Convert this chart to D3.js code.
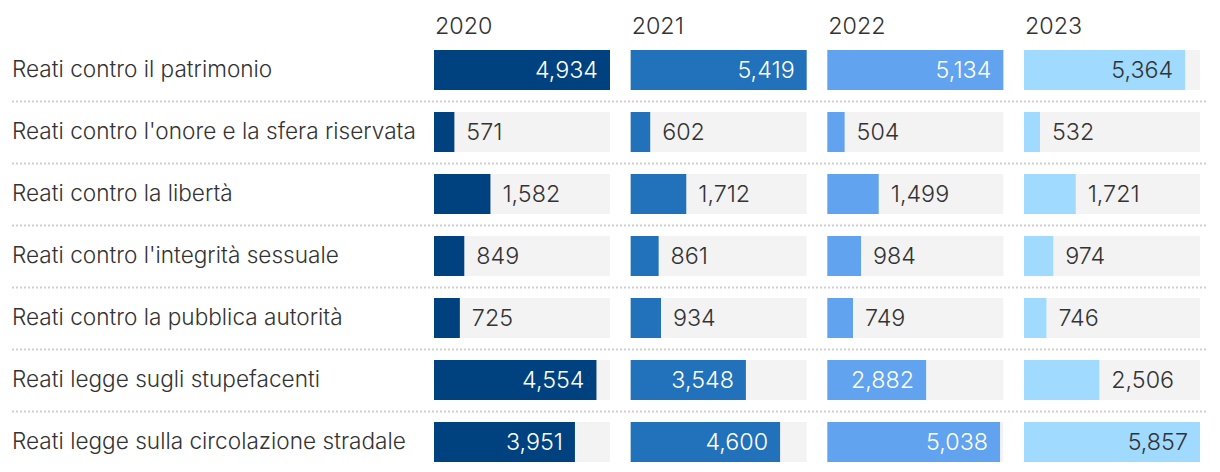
<!DOCTYPE html>
<html>
<head>
<meta charset="utf-8">
<script src="https://cdn.jsdelivr.net/npm/d3@7"></script>
<style>
  html, body { margin: 0; padding: 0; background: #fff; }
  svg { display: block; }
  text { font-family: Inter, Roboto, "Noto Sans", sans-serif; font-weight: 300; }
</style>
</head>
<body>
<svg id="chart" width="1220" height="472"></svg>
<script>
const categories = [
  "Reati contro il patrimonio",
  "Reati contro l'onore e la sfera riservata",
  "Reati contro la libertà",
  "Reati contro l'integrità sessuale",
  "Reati contro la pubblica autorità",
  "Reati legge sugli stupefacenti",
  "Reati legge sulla circolazione stradale"
];
const years = ["2020", "2021", "2022", "2023"];
const values2020 = [4934, 571, 1582, 849, 725, 4554, 3951];
const values2021 = [5419, 602, 1712, 861, 934, 3548, 4600];
const values2022 = [5134, 504, 1499, 984, 749, 2882, 5038];
const values2023 = [5364, 532, 1721, 974, 746, 2506, 5857];
const seriesValues = [values2020, values2021, values2022, values2023];
const colors = ["#00427f", "#2171bb", "#62a3f0", "#a0daff"];
const insideTextColors = ["#ffffff", "#ffffff", "#ffffff", "#333333"];

const svg = d3.select("#chart");

const x = d3.scaleBand().domain(years).range([434, 1200]).paddingInner(0.105).paddingOuter(0);
const y = d3.scaleBand().domain(categories).range([39, 473]).paddingInner(22/62).paddingOuter(11/62);
const fmt = d3.format(",");
const labelSize = 22.6;
const numSize = 23.3;
const pad = 12;

svg.append("g").selectAll("text").data(years).join("text")
  .attr("x", d => x(d) + 1)
  .attr("y", 34)
  .attr("font-size", numSize)
  .attr("fill", "#333")
  .text(d => d);

svg.append("g").selectAll("text").data(categories).join("text")
  .attr("x", 12)
  .attr("y", d => y(d) + y.bandwidth() / 2 + 7)
  .attr("font-size", labelSize)
  .attr("fill", "#333")
  .text(d => d);

svg.append("g").selectAll("line").data(categories.slice(0, -1)).join("line")
  .attr("x1", 12).attr("x2", 1208)
  .attr("y1", d => y(d) + y.bandwidth() + 11.5)
  .attr("y2", d => y(d) + y.bandwidth() + 11.5)
  .attr("stroke", "#cfcfcf")
  .attr("stroke-width", 2)
  .attr("stroke-dasharray", "2,2");

years.forEach((yr, j) => {
  const vals = seriesValues[j];
  const xv = d3.scaleLinear().domain([0, d3.max(vals)]).range([0, x.bandwidth()]);
  const g = svg.append("g").attr("transform", `translate(${x(yr)},0)`);
  const rows = categories.map((c, i) => ({ c, v: vals[i] }));

  g.selectAll("rect.bg").data(rows).join("rect")
    .attr("class", "bg")
    .attr("x", 0).attr("y", d => y(d.c))
    .attr("width", x.bandwidth()).attr("height", y.bandwidth())
    .attr("fill", "#f3f3f3");

  g.selectAll("rect.bar").data(rows).join("rect")
    .attr("class", "bar")
    .attr("x", 0).attr("y", d => y(d.c))
    .attr("width", d => xv(d.v)).attr("height", y.bandwidth())
    .attr("fill", colors[j]);

  const labels = g.selectAll("text").data(rows).join("text")
    .attr("font-size", numSize)
    .attr("y", d => y(d.c) + y.bandwidth() / 2 + 8.3)
    .text(d => fmt(d.v));

  labels.each(function(d) {
    const tw = this.getComputedTextLength();
    const bw = xv(d.v);
    const sel = d3.select(this);
    if (bw > tw + 2 * pad) {
      sel.attr("x", bw - pad).attr("text-anchor", "end").attr("fill", insideTextColors[j]);
    } else {
      sel.attr("x", bw + pad).attr("text-anchor", "start").attr("fill", "#333");
    }
  });
});
</script>
</body>
</html>
